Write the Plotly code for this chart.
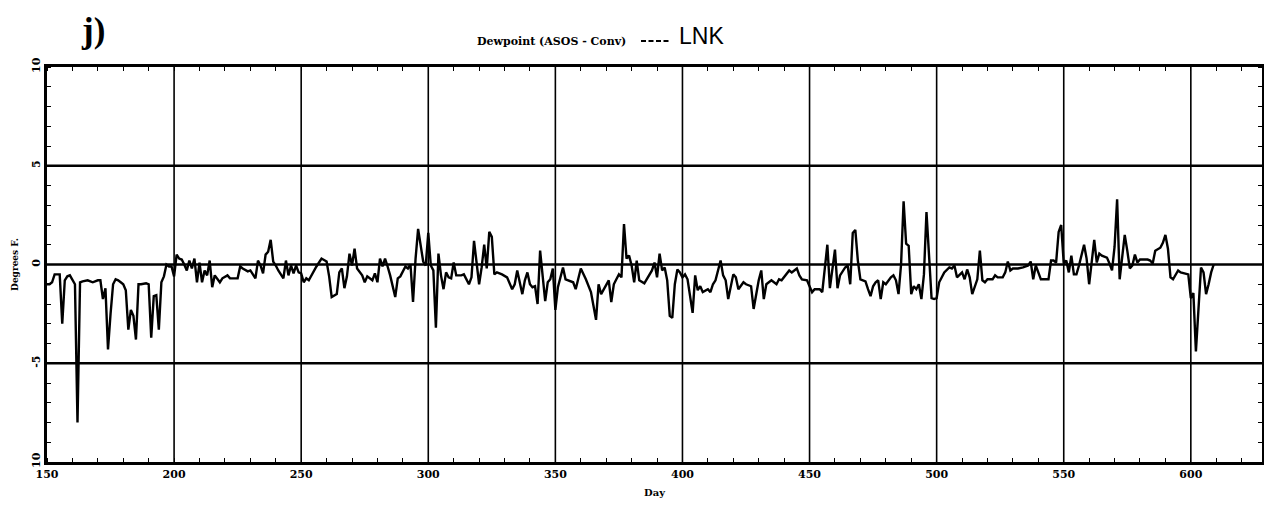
import plotly.graph_objects as go

# ---- data ----
days = [150,151,152,153,155,156,157,158,159,160,161,162,163,164,166,168,170,171,172,173,174,175,176,177,178,179,180,181,182,183,184,185,186,187,189,190,191,192,193,194,195,196,197,198,199,200,
        201,202,203,204,205,206,207,208,209,210,211,212,213,214,215,216,217,218,219,221,222,224,225,226,227,229,230,232,233,234,235,236,237,238,239,240,241,243,244,245,246,247,248,249,250,
        251,252,253,254,256,258,260,261,262,264,265,266,267,268,269,270,271,272,274,275,276,278,279,280,281,282,283,284,285,287,288,289,291,292,293,294,295,296,297,298,299,300,
        301,302,303,304,305,306,307,308,309,310,311,313,314,316,317,318,320,321,322,323,324,325,326,327,329,331,333,334,335,337,338,339,340,341,342,343,344,345,346,347,348,349,350,
        351,353,354,355,357,358,359,360,362,363,364,366,367,368,369,371,372,373,374,375,376,377,378,379,380,381,382,383,385,386,388,389,390,391,392,393,394,395,396,397,398,399,400,
        401,402,404,405,406,407,408,410,411,412,413,415,416,417,418,420,421,422,424,425,427,428,430,431,432,433,434,435,437,438,439,440,442,443,445,446,447,449,450,
        451,452,454,455,456,457,458,459,460,461,462,464,465,466,467,468,469,470,472,473,474,475,476,477,478,479,480,482,483,484,485,486,487,488,489,490,491,492,493,494,495,496,497,498,499,500,
        501,502,503,505,506,507,508,510,511,512,513,514,516,517,518,519,520,522,523,524,526,527,528,529,530,532,534,536,537,538,539,540,541,543,544,545,546,547,548,549,550,
        551,552,553,554,555,556,558,559,560,561,562,563,564,565,567,568,569,570,571,572,573,574,575,576,577,578,579,580,581,583,584,585,586,588,589,590,591,592,593,594,595,596,598,599,600,
        601,602,603,604,605,606,607,608,609]

dewpoint_diff = [-1.0,-1.0,-0.9,-0.5,-0.5,-3.0,-0.8,-0.6,-0.55,-0.8,-1.0,-8.0,-0.9,-0.85,-0.8,-0.9,-0.8,-0.8,-1.75,-1.2,-4.3,-2.5,-1.0,-0.75,-0.8,-0.9,-1.0,-1.3,-3.3,-2.3,-2.6,-3.8,-1.0,-1.0,-0.95,-1.0,-3.7,-1.6,-1.55,-3.3,-0.9,-0.6,0.0,-0.1,-0.1,-0.6,
                 0.5,0.3,0.25,0.0,-0.3,0.2,-0.2,0.3,-0.9,0.1,-0.9,-0.3,-0.55,0.2,-1.15,-0.55,-0.7,-0.9,-0.7,-0.55,-0.7,-0.7,-0.7,-0.1,-0.2,-0.35,-0.3,-0.7,0.2,-0.05,-0.45,0.5,0.65,1.25,0.15,-0.05,-0.3,-0.7,0.2,-0.55,-0.05,-0.45,-0.05,-0.4,-0.45,
                 -0.9,-0.7,-0.8,-0.55,-0.1,0.3,0.15,-0.6,-1.65,-1.5,-0.4,-0.2,-1.2,-0.6,0.55,-0.05,0.8,-0.2,-0.55,-0.9,-0.6,-0.8,-0.45,-0.9,0.3,-0.1,0.3,-0.1,-0.55,-1.65,-0.7,-0.6,-0.1,-0.2,0.0,-1.9,0.3,1.8,1.0,0.15,-0.05,1.6,
                 -0.05,-0.3,-3.2,0.55,-0.55,-1.25,-0.4,-0.65,-0.7,0.1,-0.55,-0.55,-0.5,-1.0,-0.65,1.2,-1.0,-0.15,1.0,-0.2,1.65,1.4,-0.5,-0.4,-0.5,-0.65,-1.25,-1.0,-0.3,-1.5,-0.8,-0.4,-1.0,-1.15,-1.1,-2.0,0.7,-0.75,-1.85,-0.9,-0.75,-0.2,-2.3,
                 -1.15,-0.15,-0.75,-0.8,-0.9,-1.25,-0.75,-0.2,-0.75,-1.1,-1.4,-2.8,-1.0,-1.5,-1.25,-0.8,-1.9,-1.0,-0.75,-0.5,-0.65,2.05,0.3,0.45,-0.05,-0.9,0.2,-0.8,-0.95,-0.75,-0.3,0.1,-0.65,0.55,-0.3,-0.15,-0.8,-2.6,-2.7,-1.0,-0.25,-0.4,-0.65,
                 -0.5,-0.75,-2.45,-0.55,-1.3,-1.1,-1.4,-1.25,-1.4,-1.0,-0.8,0.2,-0.55,-0.8,-1.75,-0.5,-0.65,-1.25,-0.9,-1.0,-1.1,-2.25,-0.8,-0.3,-1.75,-1.0,-0.9,-0.8,-1.0,-0.75,-0.8,-0.65,-0.3,-0.4,-0.2,-0.55,-0.75,-0.8,-1.15,
                 -1.4,-1.25,-1.25,-1.4,-0.15,1.0,-1.2,-0.15,0.75,-1.2,-0.55,-0.15,-0.05,-1.0,1.6,1.75,0.2,-0.75,-0.85,-1.25,-1.6,-1.1,-0.9,-0.8,-1.75,-0.9,-1.0,-0.65,-0.55,-0.8,-1.5,0.0,3.2,1.05,0.95,-1.5,-1.1,-1.25,-1.0,-1.75,-0.5,2.65,0.5,-1.7,-1.75,-1.7,
                 -0.9,-0.65,-0.4,-0.15,-0.2,-0.05,-0.65,-0.4,-0.75,-0.25,-0.65,-1.5,-0.75,0.7,-0.8,-0.9,-0.75,-0.75,-0.55,-0.65,-0.65,-0.4,0.15,-0.3,-0.2,-0.2,-0.15,-0.05,0.15,-0.75,-0.05,-0.4,-0.75,-0.75,-0.75,0.2,0.2,0.1,1.65,2.0,0.05,
                 0.2,-0.4,0.45,-0.5,-0.5,-0.05,1.0,0.3,-1.0,0.05,1.25,0.1,0.55,0.45,0.35,0.05,-0.3,0.9,3.3,-0.75,0.35,1.5,0.7,-0.2,-0.05,0.5,0.1,0.25,0.25,0.25,0.2,0.05,0.7,0.85,1.1,1.5,0.8,-0.65,-0.75,-0.5,-0.3,-0.4,-0.45,-0.5,-1.7,
                 -1.45,-4.4,-2.3,-0.15,-0.4,-1.5,-1.0,-0.4,0.0]

x_tickvals = [150, 200, 250, 300, 350, 400, 450, 500, 550, 600]
x_ticktext = ["150", "200", "250", "300", "350", "400", "450", "500", "550", "600"]
y_tickvals = [-10, -5, 0, 5, 10]
y_ticktext = ["10", "-5", "0", "5", "10"]

# the page body has an 8px margin, so the figure is placed 8px in from the window corner
OFF = 8
W, H = 1272 - OFF, 505 - OFF
L, T = 47 - OFF, 67 - OFF
R = W - (1262 - OFF)
B = H - (462 - OFF)
pw, ph = W - L - R, H - T - B

def px(xp):
    return (xp - OFF - L) / pw

def py(yp):
    return (H - B - (yp - OFF)) / ph

SERIF = "DejaVu Serif, Liberation Serif, serif"
SERIF2 = "Liberation Serif, DejaVu Serif, serif"

fig = go.Figure()
fig.add_trace(go.Scatter(x=days, y=dewpoint_diff, mode="lines",
                         line=dict(color="black", width=2.4), showlegend=False, hoverinfo="skip"))

# heavy reference lines
for v in [-5, 0, 5]:
    fig.add_shape(type="line", xref="paper", x0=0, x1=1, yref="y", y0=v, y1=v,
                  line=dict(color="black", width=2.6), layer="below")
for v in [200, 250, 300, 350, 400, 450, 500, 550, 600]:
    fig.add_shape(type="line", yref="paper", y0=0, y1=1, xref="x", x0=v, x1=v,
                  line=dict(color="black", width=1.6), layer="below")

# legend-like title pieces
fig.add_shape(type="line", xref="paper", yref="paper", x0=px(641), x1=px(669), y0=py(41), y1=py(41),
              line=dict(color="black", width=2, dash="5px,2.5px"))

annots = [
    dict(text="<b>j)</b>", x=px(93), y=py(31), font=dict(family=SERIF2, size=35, color="black")),
    dict(text="<b>Dewpoint (ASOS - Conv)</b>", x=px(551), y=py(41), font=dict(family=SERIF, size=11, color="black")),
    dict(text="LNK", x=px(701), y=py(36), font=dict(family="Liberation Sans Narrow, Liberation Sans, Arial, sans-serif", size=23, color="black")),
]
for a in annots:
    fig.add_annotation(xref="paper", yref="paper", showarrow=False, xanchor="center", yanchor="middle", **a)

fig.update_layout(
    width=W, height=H,
    margin=dict(l=L, r=R, t=T, b=B, pad=0, autoexpand=False),
    paper_bgcolor="white", plot_bgcolor="white",
    font=dict(family=SERIF, color="black"),
    xaxis=dict(range=[150, 628], tickvals=x_tickvals, ticktext=x_ticktext, ticks="", automargin=False,
               tickfont=dict(family=SERIF, size=11, color="black", weight="bold"),
               showgrid=False, zeroline=False, showline=True, linecolor="black", linewidth=2.5, mirror="allticks",
               minor=dict(dtick=10, tick0=150, ticks="inside", ticklen=4, tickwidth=1.2, tickcolor="black"),
               title=dict(text="<b>Day</b>", font=dict(family=SERIF, size=10, color="black"), standoff=10)),
    yaxis=dict(range=[-10, 10], tickvals=y_tickvals, ticktext=y_ticktext, ticks="", tickangle=-90, automargin=False,
               tickfont=dict(family=SERIF, size=11, color="black", weight="bold"),
               showgrid=False, zeroline=False, showline=True, linecolor="black", linewidth=2.5, mirror="allticks",
               minor=dict(dtick=1, tick0=0, ticks="inside", ticklen=4, tickwidth=1.2, tickcolor="black"),
               title=dict(text="<b>Degrees F.</b>", font=dict(family=SERIF, size=9, color="black"), standoff=10)),
)

fig.write_html("out.html")
